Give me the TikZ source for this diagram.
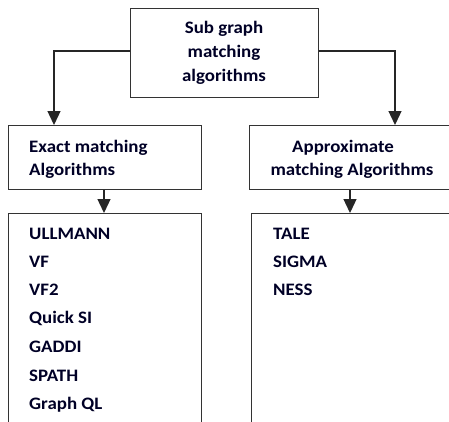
\documentclass[tikz,border=0pt]{standalone}
\usepackage{fontspec}
\setmainfont{Carlito}[FakeStretch=1.08]
\usetikzlibrary{arrows.meta}
\begin{document}
\begin{tikzpicture}[x=1pt,y=-1pt,
  boxline/.style={draw=black!80,line width=1.3pt},
  conn/.style={draw=black!85,line width=1.3pt,-{Triangle[length=14pt,width=13pt]}},
  lbl/.style={font=\fontsize{17.5}{24}\selectfont\bfseries,text=black!85!blue,inner sep=0pt},
  item/.style={lbl,anchor=base west}]
\useasboundingbox (0,0) rectangle (449,421);
\fill[white] (0,0) rectangle (449,421);
\clip (0,0) rectangle (449,421);
% boxes
\node[boxline,minimum width=188pt,minimum height=89pt,anchor=north west,inner sep=0pt] (top) at (130,8) {};
\node[boxline,minimum width=193pt,minimum height=64pt,anchor=north west,inner sep=0pt] (exact) at (8,125) {};
\node[boxline,minimum width=210pt,minimum height=64pt,anchor=north west,inner sep=0pt] (approx) at (249,125) {};
\node[boxline,minimum width=193pt,minimum height=220pt,anchor=north west,inner sep=0pt] (elist) at (8,213) {};
\node[boxline,minimum width=210pt,minimum height=220pt,anchor=north west,inner sep=0pt] (alist) at (251,213) {};
% texts
\node[lbl,anchor=base] (t1) at (224,33) {Sub graph};
\node[lbl,anchor=base] (t2) at (224,57) {matching};
\node[lbl,anchor=base] (t3) at (224,81) {algorithms};
\node[item] (e1) at (29,152) {Exact matching};
\node[item] (e2) at (29,175) {Algorithms};
\node[lbl,anchor=base] (a1) at (343,152) {Approximate};
\node[lbl,anchor=base] (a2) at (352,175) {matching Algorithms};
\node[item] (l1) at (29,239) {ULLMANN};
\node[item] (l2) at (29,267) {VF};
\node[item] (l3) at (29,295) {VF2};
\node[item] (l4) at (29,323) {Quick SI};
\node[item] (l5) at (29,352) {GADDI};
\node[item] (l6) at (29,381) {SPATH};
\node[item] (l7) at (29,409) {Graph QL};
\node[item] (r1) at (273,239) {TALE};
\node[item] (r2) at (273,267) {SIGMA};
\node[item] (r3) at (273,295) {NESS};
% connectors
\draw[conn] (top.west|-0,51) -| (54,0|-exact.north);
\draw[conn] (top.east|-0,51) -| (395,0|-approx.north);
\draw[conn] (104,0|-exact.south) -- (104,0|-elist.north);
\draw[conn] (350,0|-approx.south) -- (350,0|-alist.north);
\end{tikzpicture}
\end{document}
